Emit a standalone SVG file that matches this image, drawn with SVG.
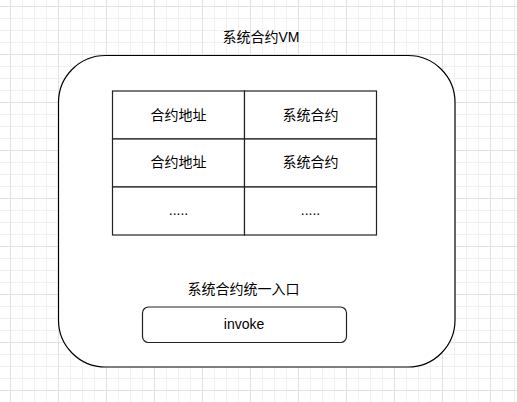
<svg xmlns="http://www.w3.org/2000/svg" width="517" height="402" viewBox="0 0 517 402">
<defs>
<pattern id="minor" width="12" height="12" patternUnits="userSpaceOnUse" x="10" y="6">
<path d="M0.5 0V12M0 0.5H12" fill="none" stroke="#f1f1f1" stroke-width="1"/>
</pattern>
<pattern id="major" width="48" height="48" patternUnits="userSpaceOnUse" x="10" y="6">
<path d="M0.5 0V48M0 0.5H48" fill="none" stroke="#e2e2e2" stroke-width="1"/>
</pattern>
</defs>
<style>
text{font-family:"Liberation Sans","Noto Sans CJK SC",sans-serif;font-size:14px;fill:#000;text-anchor:middle}
.box{fill:#fff;stroke:#000;stroke-width:1.2}
.cell{fill:#fff;stroke:#222;stroke-width:1.2}
</style>
<rect width="517" height="402" fill="#fff"/>
<rect width="517" height="402" fill="url(#minor)"/>
<rect width="517" height="402" fill="url(#major)"/>
<g id="vm">
<rect class="box" x="58.5" y="55.5" width="396.5" height="311.5" rx="47" ry="47"/>
<text x="261" y="42">系统合约VM</text>
</g>
<g id="table">
<rect class="cell" x="112.5" y="91" width="132" height="48"/>
<rect class="cell" x="244.5" y="91" width="132" height="48"/>
<rect class="cell" x="112.5" y="139" width="132" height="48"/>
<rect class="cell" x="244.5" y="139" width="132" height="48"/>
<rect class="cell" x="112.5" y="187" width="132" height="48"/>
<rect class="cell" x="244.5" y="187" width="132" height="48"/>
<text x="178.5" y="120">合约地址</text>
<text x="310.5" y="120">系统合约</text>
<text x="178.5" y="167">合约地址</text>
<text x="310.5" y="167">系统合约</text>
<text x="178.5" y="215">.....</text>
<text x="310.5" y="215">.....</text>
</g>
<g id="entry">
<text x="243.5" y="294">系统合约统一入口</text>
</g>
<g id="invoke">
<rect class="cell" x="142.5" y="307" width="204" height="35.5" rx="6" ry="6"/>
<text x="244" y="329">invoke</text>
</g>
<g id="connectors"></g>
</svg>
